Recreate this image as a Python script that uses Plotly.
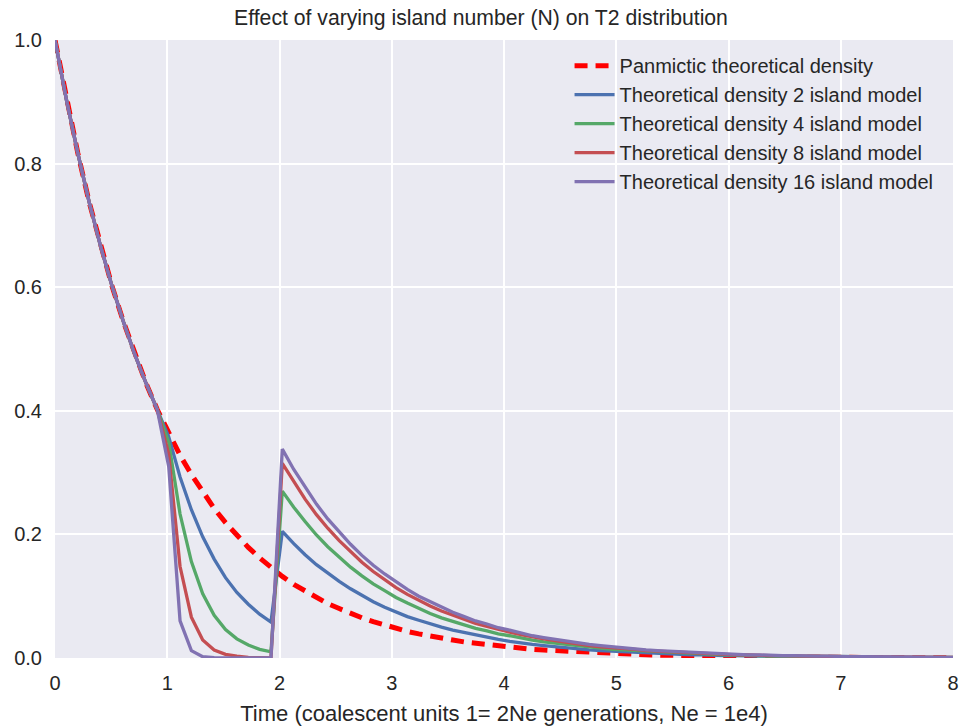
import plotly.graph_objects as go

time = [0.000, 0.101, 0.203, 0.304, 0.405, 0.506, 0.608, 0.709, 0.810, 0.911,
        1.013, 1.114, 1.215, 1.316, 1.418, 1.519, 1.620, 1.722, 1.823, 1.924,
        2.025, 2.127, 2.228, 2.329, 2.430, 2.532, 2.633, 2.734, 2.835, 2.937,
        3.038, 3.139, 3.241, 3.342, 3.443, 3.544, 3.646, 3.747, 3.848, 3.949,
        4.051, 4.152, 4.253, 4.354, 4.456, 4.557, 4.658, 4.759, 4.861, 4.962,
        5.063, 5.165, 5.266, 5.367, 5.468, 5.570, 5.671, 5.772, 5.873, 5.975,
        6.076, 6.177, 6.278, 6.380, 6.481, 6.582, 6.684, 6.785, 6.886, 6.987,
        7.089, 7.190, 7.291, 7.392, 7.494, 7.595, 7.696, 7.797, 7.899, 8.000]

early = [1.000, 0.904, 0.817, 0.738, 0.667, 0.603, 0.545, 0.492, 0.445, 0.402]

panmictic = early + [
    0.363, 0.328, 0.297, 0.268, 0.242, 0.219, 0.198, 0.179, 0.162, 0.146,
    0.132, 0.119, 0.108, 0.097, 0.088, 0.080, 0.072, 0.065, 0.059, 0.053,
    0.048, 0.043, 0.039, 0.035, 0.032, 0.029, 0.026, 0.024, 0.021, 0.019,
    0.017, 0.016, 0.014, 0.013, 0.012, 0.0105, 0.0095, 0.0086, 0.0077, 0.0070,
    0.0063, 0.0057, 0.0052, 0.0047, 0.0042, 0.0038, 0.0034, 0.0031, 0.0028, 0.0025,
    0.0023, 0.0020, 0.0018, 0.0017, 0.0015, 0.0014, 0.0012, 0.0011, 0.0010, 0.0009,
    0.0008, 0.0007, 0.0007, 0.0006, 0.0005, 0.0005, 0.0004, 0.0004, 0.0003, 0.0003]

island2 = early + [
    0.358, 0.293, 0.240, 0.196, 0.160, 0.130, 0.106, 0.087, 0.071, 0.058,
    0.205, 0.185, 0.167, 0.151, 0.137, 0.124, 0.112, 0.101, 0.091, 0.082,
    0.074, 0.067, 0.061, 0.055, 0.050, 0.045, 0.041, 0.037, 0.033, 0.030,
    0.027, 0.024, 0.022, 0.020, 0.018, 0.016, 0.015, 0.013, 0.012, 0.011,
    0.010, 0.009, 0.008, 0.007, 0.007, 0.006, 0.005, 0.005, 0.004, 0.004,
    0.004, 0.003, 0.003, 0.003, 0.002, 0.002, 0.002, 0.002, 0.002, 0.001,
    0.001, 0.001, 0.001, 0.001, 0.001, 0.001, 0.0007, 0.0006, 0.0006, 0.0005]

island4 = early + [
    0.349, 0.233, 0.156, 0.104, 0.069, 0.046, 0.031, 0.021, 0.014, 0.010,
    0.270, 0.244, 0.221, 0.199, 0.180, 0.163, 0.147, 0.133, 0.120, 0.109,
    0.098, 0.089, 0.080, 0.072, 0.065, 0.059, 0.053, 0.048, 0.044, 0.039,
    0.036, 0.032, 0.029, 0.026, 0.024, 0.021, 0.019, 0.018, 0.016, 0.014,
    0.013, 0.012, 0.011, 0.010, 0.009, 0.008, 0.007, 0.006, 0.006, 0.005,
    0.005, 0.004, 0.004, 0.003, 0.003, 0.003, 0.003, 0.002, 0.002, 0.002,
    0.002, 0.002, 0.001, 0.001, 0.001, 0.001, 0.001, 0.001, 0.001, 0.001]

island8 = early + [
    0.330, 0.148, 0.066, 0.029, 0.013, 0.006, 0.003, 0.001, 0.0005, 0.0002,
    0.315, 0.285, 0.257, 0.232, 0.210, 0.190, 0.172, 0.155, 0.140, 0.127,
    0.114, 0.103, 0.093, 0.084, 0.076, 0.069, 0.062, 0.056, 0.051, 0.046,
    0.042, 0.038, 0.034, 0.031, 0.028, 0.025, 0.023, 0.020, 0.018, 0.017,
    0.015, 0.014, 0.012, 0.011, 0.010, 0.009, 0.008, 0.007, 0.007, 0.006,
    0.005, 0.005, 0.004, 0.004, 0.004, 0.003, 0.003, 0.003, 0.002, 0.002,
    0.002, 0.002, 0.002, 0.001, 0.001, 0.001, 0.001, 0.001, 0.001, 0.001]

island16 = early + [
    0.310, 0.060, 0.012, 0.002, 0.0005, 0.0001, 0.0, 0.0, 0.0, 0.0,
    0.338, 0.305, 0.276, 0.249, 0.225, 0.204, 0.184, 0.166, 0.150, 0.136,
    0.123, 0.111, 0.100, 0.091, 0.082, 0.074, 0.067, 0.060, 0.055, 0.049,
    0.045, 0.040, 0.036, 0.033, 0.030, 0.027, 0.024, 0.022, 0.020, 0.018,
    0.016, 0.015, 0.013, 0.012, 0.011, 0.010, 0.009, 0.008, 0.007, 0.007,
    0.006, 0.005, 0.005, 0.004, 0.004, 0.004, 0.003, 0.003, 0.003, 0.002,
    0.002, 0.002, 0.002, 0.002, 0.001, 0.001, 0.001, 0.001, 0.001, 0.001]

series_names = ["Panmictic theoretical density",
                "Theoretical density 2 island model",
                "Theoretical density 4 island model",
                "Theoretical density 8 island model",
                "Theoretical density 16 island model"]
series_values = [panmictic, island2, island4, island8, island16]
colors = ["#FF0000", "#4C72B0", "#55A868", "#C44E52", "#8172B2"]
widths = [5, 3.3, 3.3, 3.3, 3.3]
dashes = ["13px,8px", "solid", "solid", "solid", "solid"]

FONT = "Liberation Sans, Arial, sans-serif"
fig = go.Figure()
for name, vals, c, w, d in zip(series_names, series_values, colors, widths, dashes):
    fig.add_trace(go.Scatter(x=time, y=vals, mode="lines", name=name,
                             line=dict(color=c, width=w, dash=d)))

fig.update_layout(
    width=962, height=727,
    margin=dict(l=55, r=9, t=40, b=69),
    paper_bgcolor="white", plot_bgcolor="#EAEAF2",
    font=dict(family=FONT, size=20, color="#262626"),
    title=dict(text="Effect of varying island number (N) on T2 distribution",
               x=0.5, xref="container", xanchor="center", y=1 - 18 / 727, yanchor="middle",
               font=dict(size=21.2, color="#262626")),
    legend=dict(x=0.573, y=0.99, xanchor="left", yanchor="top",
                bgcolor="rgba(0,0,0,0)", borderwidth=0,
                font=dict(size=20, color="#262626"), tracegroupgap=0,
                itemwidth=40),
    showlegend=True,
)
fig.update_xaxes(range=[0, 8], tickvals=[0, 1, 2, 3, 4, 5, 6, 7, 8],
                 showgrid=True, gridcolor="white", gridwidth=2,
                 zeroline=False, showline=False, ticks="", automargin=False,
                 tickfont=dict(size=20), ticklabelstandoff=11,
                 title=dict(text="Time (coalescent units 1= 2Ne generations, Ne = 1e4)",
                            font=dict(size=22), standoff=12))
fig.update_yaxes(range=[0, 1], tickvals=[0, 0.2, 0.4, 0.6, 0.8, 1.0], tickformat=".1f",
                 showgrid=True, gridcolor="white", gridwidth=2,
                 zeroline=False, showline=False, ticks="", automargin=False,
                 tickfont=dict(size=20), ticklabelstandoff=12)

fig.write_html("out.html")
